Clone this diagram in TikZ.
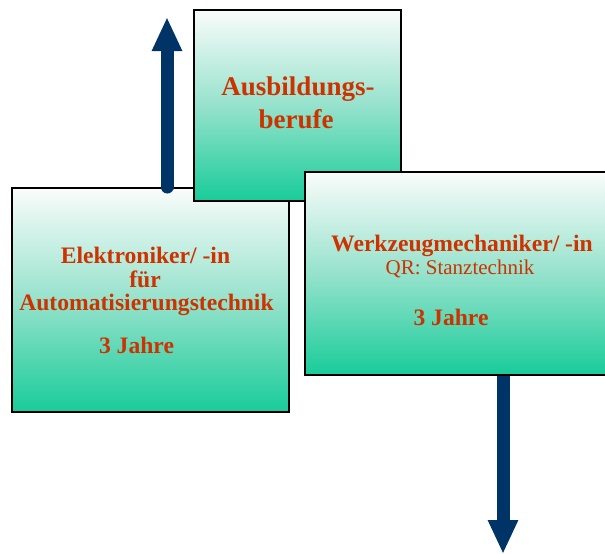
\documentclass[tikz,border=0pt]{standalone}
\usepackage{fontspec}
\setmainfont{Liberation Serif}
\usetikzlibrary{arrows.meta}
\definecolor{boxgreen}{RGB}{24,204,153}
\definecolor{boxmid}{RGB}{150,226,204}
\definecolor{boxtop}{RGB}{250,252,251}
\definecolor{txtred}{RGB}{204,51,0}
\definecolor{arrowblue}{RGB}{0,51,102}
\pgfdeclareverticalshading{boxshade}{100bp}{color(0bp)=(boxgreen); color(25bp)=(boxgreen); color(50bp)=(boxmid); color(75bp)=(boxtop); color(100bp)=(boxtop)}
\tikzset{
  box/.style={rectangle, draw=black, line width=2pt, shading=boxshade, inner sep=0pt},
  bigtxt/.style={text=txtred, font=\fontsize{27}{33}\selectfont\bfseries, anchor=base, inner sep=0pt},
  midtxt/.style={text=txtred, font=\fontsize{23.6}{24}\selectfont\bfseries, anchor=base, inner sep=0pt},
  smalltxt/.style={text=txtred, font=\fontsize{21}{22}\selectfont, anchor=base, inner sep=0pt},
  bigarrow/.style={draw=arrowblue, line width=13pt, -{Triangle[width=28pt,length=34pt]}}
}
\begin{document}
\begin{tikzpicture}[x=1pt,y=-1pt]
\useasboundingbox (0,0) rectangle (605,554);
% boxes
\node[box, minimum width=277pt, minimum height=224pt] (left) at (150.5,300) {};
\node[box, minimum width=207pt, minimum height=191pt] (top) at (297.5,105.5) {};
\node[box, minimum width=320pt, minimum height=203pt] (right) at (465,273.5) {};
% texts
\node[bigtxt] (t1) at (298,95) {Ausbildungs-};
\node[bigtxt] (t2) at (296,128) {berufe};
\node[midtxt] (l1) at (145.5,263) {Elektroniker/ -in};
\node[midtxt] (l2) at (145,287) {für};
\node[midtxt] (l3) at (146.5,310) {Automatisierungstechnik};
\node[midtxt] (l4) at (136.5,353) {3 Jahre};
\node[midtxt] (r1) at (462,251) {Werkzeugmechaniker/ -in};
\node[smalltxt] (r2) at (460,274) {QR: Stanztechnik};
\node[midtxt] (r3) at (451,325) {3 Jahre};
% arrows
\coordinate (upend) at (167,17);
\coordinate (downend) at (503,554);
\draw[bigarrow, line cap=round] (left.north -| upend) -- (upend);
\draw[bigarrow] (right.south -| downend) -- (downend);
\end{tikzpicture}
\end{document}
